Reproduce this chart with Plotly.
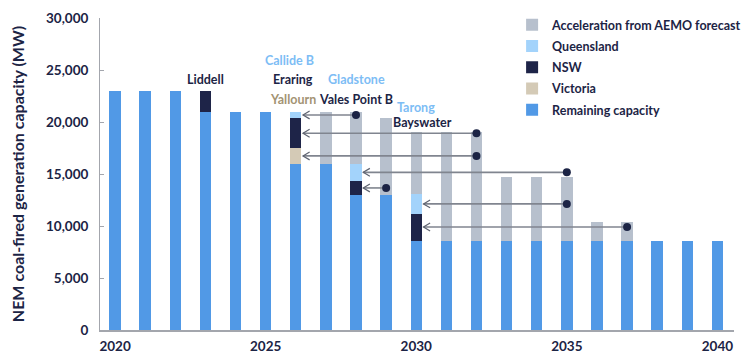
import plotly.graph_objects as go

years = list(range(2020, 2041))
remaining = [23000, 23000, 23000, 21000, 21000, 21000, 16000, 16000, 13000, 13000,
             8600, 8600, 8600, 8600, 8600, 8600, 8600, 8600, 8600, 8600, 8600]
victoria = [0, 0, 0, 0, 0, 0, 1480, 0, 0, 0, 0, 0, 0, 0, 0, 0, 0, 0, 0, 0, 0]
nsw = [0, 0, 0, 2000, 0, 0, 2880, 0, 1320, 0, 2600, 0, 0, 0, 0, 0, 0, 0, 0, 0, 0]
queensland = [0, 0, 0, 0, 0, 0, 640, 0, 1680, 0, 1850, 0, 0, 0, 0, 0, 0, 0, 0, 0, 0]
acceleration = [0, 0, 0, 0, 0, 0, 0, 5000, 5000, 7400, 5950, 10400, 10400,
                6100, 6100, 6100, 1800, 1800, 0, 0, 0]

# closures brought forward: (station, state, original year, new year)
moves = [
    ("Callide B", "Queensland", 2028, 2026),
    ("Eraring", "NSW", 2032, 2026),
    ("Yallourn", "Victoria", 2032, 2026),
    ("Gladstone", "Queensland", 2035, 2028),
    ("Vales Point B", "NSW", 2029, 2028),
    ("Tarong", "Queensland", 2035, 2030),
    ("Bayswater", "NSW", 2037, 2030),
]

NAVY = "#1c2445"
C_REM = "#5199e6"
C_VIC = "#d4cab6"
C_NSW = "#1e2448"
C_QLD = "#a3d3fb"
C_ACC = "#b7c0cd"
C_ARROW = "#80858f"
LBL_QLD = "#7dbdf5"
LBL_VIC = "#a39373"
FONT = "Lato"

fig = go.Figure()
series = [("Remaining capacity", remaining, C_REM),
          ("Victoria", victoria, C_VIC),
          ("NSW", nsw, C_NSW),
          ("Queensland", queensland, C_QLD),
          ("Acceleration from AEMO forecast", acceleration, C_ACC)]
n = len(series)
for k, (name, vals, col) in enumerate(series):
    fig.add_trace(go.Bar(x=years, y=vals, name=name, legendgroup=name, legendrank=n - k,
                         marker=dict(color=col, line=dict(width=0)),
                         width=0.38, hoverinfo="skip"))

# stacked segment centres for arrows
state_order = ["Remaining capacity", "Victoria", "NSW", "Queensland"]
state_vals = {"Remaining capacity": remaining, "Victoria": victoria, "NSW": nsw, "Queensland": queensland}

def seg_center(state, year):
    i = years.index(year)
    base = 0
    for s in state_order:
        if s == state:
            return base + state_vals[s][i] / 2
        base += state_vals[s][i]

BAR_HALF = 0.19
CHEV_DX = 0.22   # chevron depth in years (~6.5 px)
CHEV_DY = 380    # chevron half-height in MW (~4 px)

lx, ly, cx, cy, dot_x, dot_y = [], [], [], [], [], []
for station, state, src, dst in moves:
    yc = seg_center(state, dst)
    tip = dst + BAR_HALF + 0.05
    lx += [tip, src, None]
    ly += [yc, yc, None]
    cx += [tip + CHEV_DX, tip, tip + CHEV_DX, None]
    cy += [yc + CHEV_DY, yc, yc - CHEV_DY, None]
    dot_x.append(src)
    dot_y.append(yc)

fig.add_trace(go.Scatter(x=lx, y=ly, mode="lines", showlegend=False,
                         line=dict(color=C_ARROW, width=1.6), hoverinfo="skip"))
fig.add_trace(go.Scatter(x=cx, y=cy, mode="lines", showlegend=False,
                         line=dict(color="#5e6370", width=1.2), hoverinfo="skip"))
fig.add_trace(go.Scatter(x=dot_x, y=dot_y, mode="markers", showlegend=False,
                         marker=dict(color=NAVY, size=8), hoverinfo="skip"))

labels = [
    ("Liddell", 2023, 24050, NAVY),
    ("Callide B", 2025.8, 25900, LBL_QLD),
    ("Eraring", 2025.9, 24050, NAVY),
    ("Gladstone", 2028.0, 24050, LBL_QLD),
    ("Yallourn", 2025.9, 22200, LBL_VIC),
    ("Vales Point B", 2028.0, 22200, NAVY),
    ("Tarong", 2030.0, 21350, LBL_QLD),
    ("Bayswater", 2030.2, 20000, NAVY),
]
annotations = []
for t, x, y, c in labels:
    annotations.append(dict(x=x, y=y, xref="x", yref="y", text=t, showarrow=False,
                            font=dict(family=FONT, size=12.5, color=c, weight="bold")))

fig.update_layout(
    width=754, height=363,
    margin=dict(l=100, r=20, t=18, b=33, autoexpand=False),
    barmode="stack",
    plot_bgcolor="white", paper_bgcolor="white",
    font=dict(family=FONT, size=13, color=NAVY, weight="bold"),
    showlegend=True,
    legend=dict(x=0.65, y=1.025, xanchor="left", yanchor="top",
                traceorder="grouped", tracegroupgap=2,
                font=dict(family=FONT, size=12.5, color=NAVY, weight="bold"),
                bgcolor="rgba(0,0,0,0)", itemwidth=30),
    annotations=annotations,
    xaxis=dict(range=[2019.5, 2040.55], tickvals=[2020, 2025, 2030, 2035, 2040],
               showline=True, linecolor="#a3a6ad", linewidth=1.5, ticks="",
               showgrid=False, zeroline=False, automargin=False, ticklabelstandoff=3,
               tickfont=dict(family=FONT, size=13.5, color=NAVY, weight="bold")),
    yaxis=dict(range=[0, 30000], tickvals=[0, 5000, 10000, 15000, 20000, 25000, 30000],
               tickformat=",d", showline=True, linecolor="#a3a6ad", linewidth=1,
               ticks="inside", ticklen=4, tickcolor="#a3a6ad", ticklabelstandoff=8,
               showgrid=False, zeroline=False, automargin=False,
               title=dict(text="NEM coal-fired generation capacity (MW)",
                          font=dict(family=FONT, size=16, color=NAVY, weight="bold"),
                          standoff=17),
               tickfont=dict(family=FONT, size=13.5, color=NAVY, weight="bold")),
)

fig.write_html("out.html", config={"displayModeBar": False},
               post_script="document.body.style.margin='0';document.body.style.padding='0';")
